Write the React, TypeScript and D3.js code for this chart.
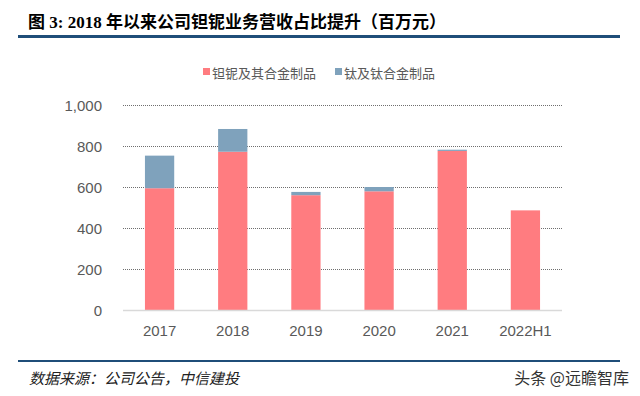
import React from "react";
import * as d3 from "d3";

const categories = ["2017", "2018", "2019", "2020", "2021", "2022H1"];
const tantalumNiobium = [594, 772, 560, 579, 776, 486];
const titanium = [159, 111, 16, 21, 6, 0];
const yTicks = [0, 200, 400, 600, 800, 1000];
const seriesNames = ["钽铌及其合金制品", "钛及钛合金制品"];
const seriesColors = ["#FF7C80", "#7FA2BC"];

export default function App() {
  const W = 640, H = 396;
  const x = d3.scaleBand<string>().domain(categories).range([123, 562]).paddingInner(0.6).paddingOuter(0.3);
  const y = d3.scaleLinear().domain([0, 1000]).range([310, 105]);
  const fmt = d3.format(",");
  const stack = categories.map((c, i) => ({ c, a: tantalumNiobium[i], b: titanium[i] }));
  const font = "'Liberation Sans', Arial, sans-serif";
  return (
    <svg width={W} height={H} style={{ position: "absolute", left: 0, top: 0, background: "#fff" }}>
      <text x={28} y={28} fontFamily="'Liberation Serif','Noto Sans CJK SC', serif" fontWeight="bold" fontSize={17} fill="#000">
        图 3: 2018 年以来公司钽铌业务营收占比提升（百万元）
      </text>
      <line x1={18} x2={620} y1={36.5} y2={36.5} stroke="#1F4E79" strokeWidth={3} />
      {seriesNames.map((n, i) => {
        const lx = i === 0 ? 203 : 335;
        return (
          <g key={n}>
            <rect x={lx} y={68} width={7} height={7} fill={seriesColors[i]} />
            <text x={lx + 9} y={78} fontFamily="'Noto Sans CJK SC', sans-serif" fontSize={13} fill="#595959">{n}</text>
          </g>
        );
      })}
      {yTicks.filter((t) => t > 0).map((t) => (
        <line key={t} x1={123} x2={562} y1={Math.round(y(t)) + 0.5} y2={Math.round(y(t)) + 0.5} stroke="#6F6F6F" strokeWidth={1} strokeDasharray="1 1" />
      ))}
      {yTicks.map((t) => (
        <text key={t} x={102} y={y(t) + 5.5} textAnchor="end" fontFamily={font} fontSize={15} fill="#595959">{fmt(t)}</text>
      ))}
      {stack.map((d) => (
        <g key={d.c}>
          <rect x={x(d.c)} width={x.bandwidth()} y={y(d.a)} height={y(0) - y(d.a)} fill={seriesColors[0]} />
          {d.b > 0 && (
            <rect x={x(d.c)} width={x.bandwidth()} y={y(d.a + d.b)} height={y(d.a) - y(d.a + d.b)} fill={seriesColors[1]} />
          )}
        </g>
      ))}
      <line x1={123} x2={562} y1={310.5} y2={310.5} stroke="#D9D9D9" strokeWidth={1.5} />
      {categories.map((c) => (
        <text key={c} x={(x(c) as number) + x.bandwidth() / 2} y={336} textAnchor="middle" fontFamily={font} fontSize={15} fill="#595959">{c}</text>
      ))}
      <line x1={18} x2={620} y1={361} y2={361} stroke="#1F4E79" strokeWidth={2} />
      <text x={29} y={384} fontFamily="'Noto Sans CJK SC', sans-serif" fontStyle="italic" fontSize={15} fill="#222">
        数据来源：公司公告，中信建投
      </text>
      <text x={629} y={384} textAnchor="end" fontFamily="'Noto Sans CJK SC', sans-serif" fontSize={16} fill="#333">头条 @远瞻智库</text>
    </svg>
  );
}
